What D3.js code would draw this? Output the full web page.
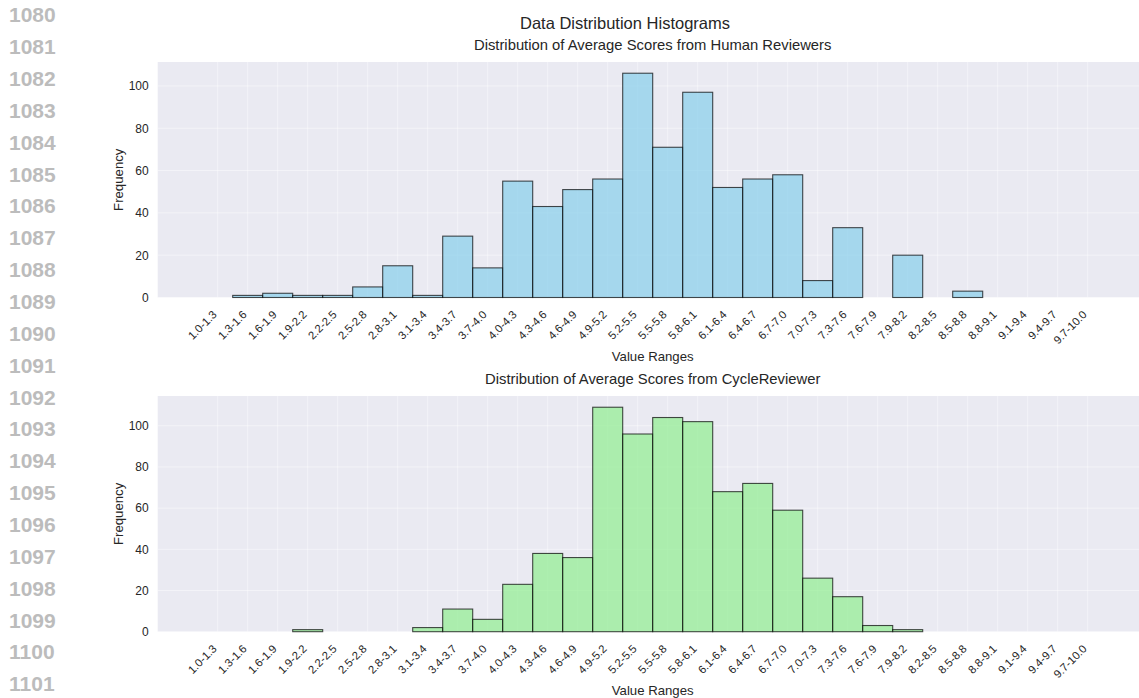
<!DOCTYPE html>
<html>
<head>
<meta charset="utf-8">
<script src="https://cdn.jsdelivr.net/npm/d3@7"></script>
<style>
    body { margin: 0; background: #fff; }
    svg { display: block; font-family: "Liberation Sans", Arial, sans-serif; }
</style>
</head>
<body>
<div id="chart"></div>
<script>
// bins and counts
const ranges = ["1.0-1.3", "1.3-1.6", "1.6-1.9", "1.9-2.2", "2.2-2.5", "2.5-2.8", "2.8-3.1", "3.1-3.4",
    "3.4-3.7", "3.7-4.0", "4.0-4.3", "4.3-4.6", "4.6-4.9", "4.9-5.2", "5.2-5.5", "5.5-5.8", "5.8-6.1",
    "6.1-6.4", "6.4-6.7", "6.7-7.0", "7.0-7.3", "7.3-7.6", "7.6-7.9", "7.9-8.2", "8.2-8.5", "8.5-8.8",
    "8.8-9.1", "9.1-9.4", "9.4-9.7", "9.7-10.0"];
const humanCounts = [0, 1, 2, 1, 1, 5, 15, 1, 29, 14, 55, 43, 51, 56, 106, 71, 97, 52, 56, 58,
    8, 33, 0, 20, 0, 3, 0, 0, 0, 0];
const cycleCounts = [0, 0, 0, 1, 0, 0, 0, 2, 11, 6, 23, 38, 36, 109, 96, 104, 102, 68, 72, 59,
    26, 17, 3, 1, 0, 0, 0, 0, 0, 0];
const yTicks = [0, 20, 40, 60, 80, 100];
const lineNumbers = d3.range(1080, 1102);

const width = 1139, height = 698;

const svg = d3.select("#chart").append("svg")
    .attr("width", width)
    .attr("height", height);

// line numbers down the left margin
svg.append("g").selectAll("text")
    .data(lineNumbers)
    .enter().append("text")
    .attr("x", 9)
    .attr("y", (d, i) => 15 + i * 31.85)
    .attr("dy", "0.35em")
    .style("font-size", "21px")
    .style("font-weight", "bold")
    .style("fill", "#bcbcbc")
    .text(d => d);

svg.append("text")
    .attr("x", 625)
    .attr("y", 29)
    .attr("text-anchor", "middle")
    .style("font-size", "16.5px")
    .style("fill", "#262626")
    .text("Data Distribution Histograms");

const panelLeft = 157.7, panelRight = 1147.7;

function drawPanel(counts, opts) {
    let g = svg.append("g");

    let x = d3.scaleBand()
        .domain(ranges)
        .range([panelLeft + 45, panelRight - 45])
        .padding(0);

    let y = d3.scaleLinear()
        .domain([0, d3.max(counts) * 1.05])
        .range([opts.bottom, opts.top]);

    // background
    g.append("rect")
        .attr("x", panelLeft)
        .attr("y", opts.top)
        .attr("width", panelRight - panelLeft)
        .attr("height", opts.bottom - opts.top)
        .style("fill", "#eaeaf2");

    // grid
    g.append("g").selectAll("line.h")
        .data(yTicks)
        .enter().append("line")
        .attr("x1", panelLeft).attr("x2", panelRight)
        .attr("y1", d => y(d)).attr("y2", d => y(d))
        .style("stroke", "#fff").style("stroke-opacity", 0.45);

    g.append("g").selectAll("line.v")
        .data(ranges)
        .enter().append("line")
        .attr("x1", d => x(d) + x.bandwidth() / 2)
        .attr("x2", d => x(d) + x.bandwidth() / 2)
        .attr("y1", opts.top).attr("y2", opts.bottom)
        .style("stroke", "#fff").style("stroke-opacity", 0.45);

    // bars
    g.append("g").selectAll("rect")
        .data(counts)
        .enter().append("rect")
        .attr("x", (d, i) => x(ranges[i]))
        .attr("y", d => y(d))
        .attr("width", x.bandwidth())
        .attr("height", d => y(0) - y(d))
        .style("fill", opts.color)
        .style("fill-opacity", 0.7)
        .style("stroke", "#000")
        .style("stroke-opacity", 0.7)
        .style("stroke-width", 1.1);

    // y axis
    let yAxis = d3.axisLeft(y).tickValues(yTicks).tickSize(0).tickPadding(9);
    g.append("g")
        .attr("transform", `translate(${panelLeft},0)`)
        .call(yAxis)
        .call(a => a.select(".domain").remove())
        .selectAll("text")
        .style("font-size", "12px")
        .style("font-family", "Liberation Sans, Arial, sans-serif")
        .style("fill", "#262626");

    // x tick labels
    g.append("g").selectAll("text")
        .data(ranges)
        .enter().append("text")
        .attr("transform", d => `translate(${x(d) + x.bandwidth() / 2 - 3},${opts.bottom + 15}) rotate(-45)`)
        .attr("text-anchor", "end")
        .attr("dy", "0.35em")
        .style("font-size", "11.3px")
        .style("fill", "#262626")
        .text(d => d);

    g.append("text")
        .attr("transform", `translate(122.5,${(opts.top + opts.bottom) / 2}) rotate(-90)`)
        .attr("text-anchor", "middle")
        .style("font-size", "13.2px")
        .style("fill", "#262626")
        .text("Frequency");

    g.append("text")
        .attr("x", (panelLeft + panelRight) / 2)
        .attr("y", opts.xLabelY)
        .attr("text-anchor", "middle")
        .style("font-size", "13.2px")
        .style("fill", "#262626")
        .text("Value Ranges");

    g.append("text")
        .attr("x", (panelLeft + panelRight) / 2)
        .attr("y", opts.top - 12)
        .attr("text-anchor", "middle")
        .style("font-size", "14.8px")
        .style("fill", "#262626")
        .text(opts.title);
}

drawPanel(humanCounts, {
    top: 62, bottom: 297.5, xLabelY: 360.5, color: "#87ceeb",
    title: "Distribution of Average Scores from Human Reviewers"
});

drawPanel(cycleCounts, {
    top: 396, bottom: 631.7, xLabelY: 695, color: "#90ee90",
    title: "Distribution of Average Scores from CycleReviewer"
});
</script>
</body>
</html>
